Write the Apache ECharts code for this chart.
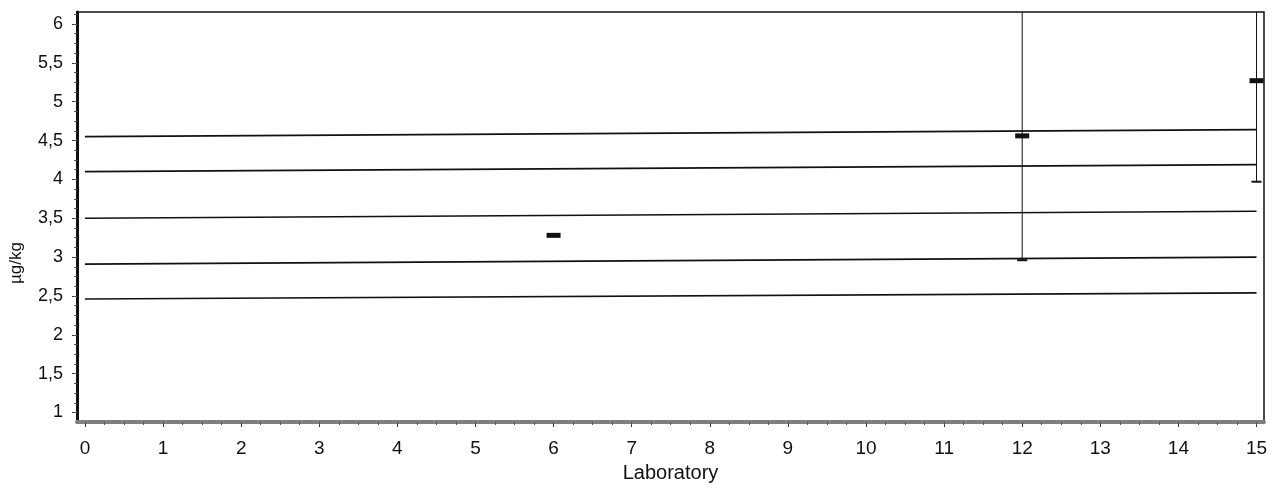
<!DOCTYPE html>
<html>
<head>
<meta charset="utf-8">
<script src="https://cdn.jsdelivr.net/npm/echarts@6/dist/echarts.min.js"></script>
<style>html,body{margin:0;padding:0;background:#fff}#c{width:1283px;height:488px}</style>
</head>
<body>
<div id="c"></div>
<script>
// ---- data ----
const xTickLabels = [0,1,2,3,4,5,6,7,8,9,10,11,12,13,14,15];
const yTickLabels = [1,1.5,2,2.5,3,3.5,4,4.5,5,5.5,6];
const labs   = [6, 12, 15];
const means  = [3.28, 4.56, 5.27];
const lowers = [null, 2.96, 3.97];
const uppers = [null, 6.16, 6.16];
// reference lines (value at lab 0, value at lab 15)
const refStart = [4.55, 4.10, 3.50, 2.91, 2.46];
const refEnd   = [4.64, 4.19, 3.59, 3.00, 2.54];

const xMinor = []; for (let i = 0; i <= 60; i++) xMinor.push(i / 4);
const yMinor = []; for (let i = 8; i <= 49; i++) yMinor.push(i / 8);

const font = 'Liberation Sans, Arial, sans-serif';
const refSeries = refStart.map((s, i) => ({
  type: 'line', data: [[0, s], [15, refEnd[i]]], showSymbol: false, silent: true,
  lineStyle: { color: '#111', width: 1.6 }, z: 2
}));

const errData = labs.map((l, i) => [l, lowers[i], uppers[i]]).filter(d => d[1] != null);

const chart = echarts.init(document.getElementById('c'), null, { renderer: 'canvas' });
chart.setOption({
  animation: false,
  grid: { left: 77, right: 19, top: 12, bottom: 66, show: true, borderColor: '#111', borderWidth: 1.5 },
  xAxis: [{
    type: 'value', min: -0.102, max: 15.096,
    name: 'Laboratory', nameLocation: 'middle', nameGap: 41,
    nameTextStyle: { fontFamily: font, fontSize: 20, color: '#111' },
    axisLine: { show: true, onZero: false, lineStyle: { color: '#7f7f7f', width: 4 } },
    axisTick: { show: true, customValues: xTickLabels, length: 5, lineStyle: { color: '#333', width: 1 } },
    axisLabel: { customValues: xTickLabels, fontFamily: font, fontSize: 19, color: '#111', margin: 17 },
    splitLine: { show: false }
  }, {
    type: 'value', min: -0.102, max: 15.096, position: 'bottom',
    axisLine: { show: false, onZero: false },
    axisTick: { show: true, customValues: xMinor, length: 3, lineStyle: { color: '#555', width: 1 } },
    axisLabel: { show: false }, splitLine: { show: false }
  }],
  yAxis: [{
    type: 'value', min: 0.878, max: 6.154,
    axisLine: { show: true, onZero: false, lineStyle: { color: '#111', width: 3 } },
    axisTick: { show: true, customValues: yTickLabels, length: 5, lineStyle: { color: '#333', width: 1 } },
    axisLabel: { customValues: yTickLabels, fontFamily: font, fontSize: 18, color: '#111', margin: 14,
      formatter: v => String(v).replace('.', ',') },
    splitLine: { show: false }
  }, {
    type: 'value', min: 0.878, max: 6.154, position: 'left',
    axisLine: { show: false, onZero: false },
    axisTick: { show: true, customValues: yMinor, length: 3, lineStyle: { color: '#555', width: 1 } },
    axisLabel: { show: false }, splitLine: { show: false }
  }],
  graphic: [{
    type: 'text', x: 16, y: 263, rotation: Math.PI / 2,
    style: { text: 'µg/kg', fontFamily: font, fontSize: 17, fill: '#111', align: 'center', verticalAlign: 'middle' }
  }],
  series: refSeries.concat([
    {
      type: 'custom', data: errData, z: 3,
      renderItem: function (params, api) {
        const x = api.value(0);
        const lo = api.coord([x, api.value(1)]);
        let hi = api.coord([x, api.value(2)]);
        const top = params.coordSys.y;
        const cw = 5;
        const children = [
          { type: 'line', shape: { x1: lo[0], y1: lo[1], x2: hi[0], y2: Math.max(hi[1], top) }, style: { stroke: '#111', lineWidth: 1 } },
          { type: 'line', shape: { x1: lo[0] - cw, y1: lo[1], x2: lo[0] + cw, y2: lo[1] }, style: { stroke: '#111', lineWidth: 2 } }
        ];
        if (hi[1] >= top) children.push({ type: 'line', shape: { x1: hi[0] - cw, y1: hi[1], x2: hi[0] + cw, y2: hi[1] }, style: { stroke: '#111', lineWidth: 2 } });
        return { type: 'group', children: children };
      }
    },
    {
      type: 'scatter', data: labs.map((l, i) => [l, means[i]]), z: 4,
      symbol: 'rect', symbolSize: [14, 5], itemStyle: { color: '#111', opacity: 1 }
    }
  ])
});
</script>
</body>
</html>
